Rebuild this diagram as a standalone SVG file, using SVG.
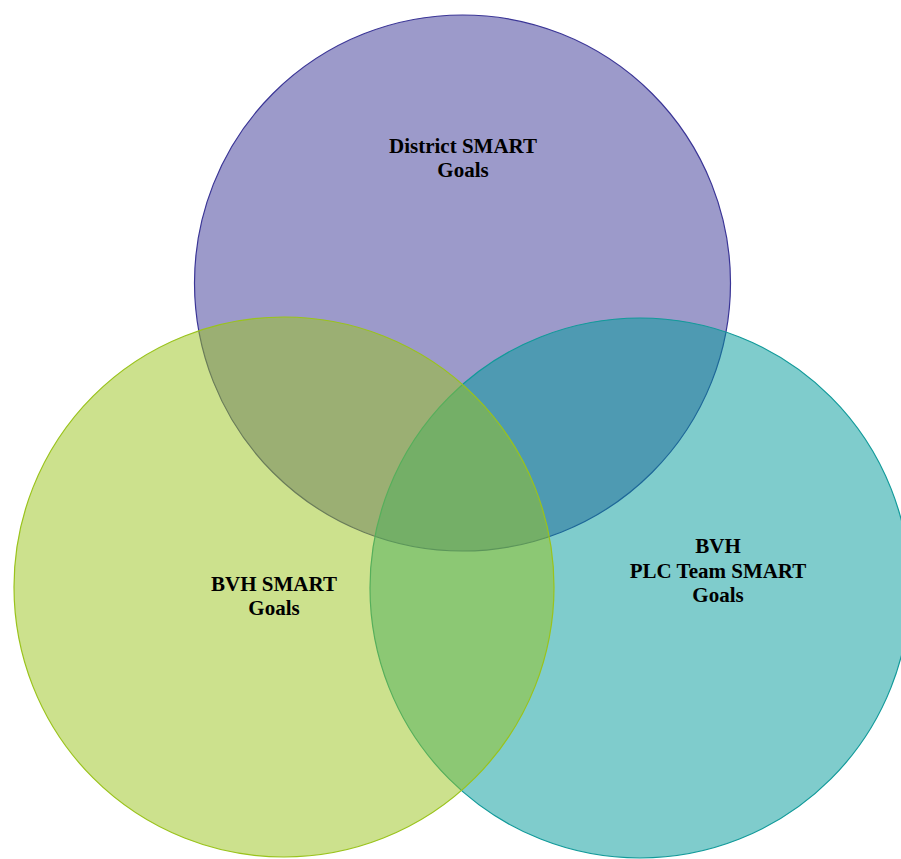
<svg xmlns="http://www.w3.org/2000/svg" width="901" height="859" viewBox="0 0 901 859">
<style>
.c{stroke-width:1.2}
.t{font-family:"Liberation Serif","Times New Roman",serif;font-weight:bold;font-size:21px;fill:#000;text-anchor:middle}
</style>
<rect width="901" height="859" fill="#fff"/>
<g id="district">
<circle class="c" cx="462.5" cy="283" r="268" fill="#3a3596" fill-opacity="0.5" stroke="#3a3596"/>
</g>
<g id="plc">
<circle class="c" cx="640" cy="588" r="270" fill="#009999" fill-opacity="0.5" stroke="#129a9a"/>
</g>
<g id="bvh">
<circle class="c" cx="284" cy="587" r="270" fill="#9ac31c" fill-opacity="0.5" stroke="#9ac31c"/>
</g>
<g id="labels">
<text class="t" x="463" y="153">District SMART</text>
<text class="t" x="463" y="177">Goals</text>
<text class="t" x="274" y="591">BVH SMART</text>
<text class="t" x="274" y="615">Goals</text>
<text class="t" x="718" y="553">BVH</text>
<text class="t" x="718" y="578">PLC Team SMART</text>
<text class="t" x="718" y="602">Goals</text>
</g>
</svg>
